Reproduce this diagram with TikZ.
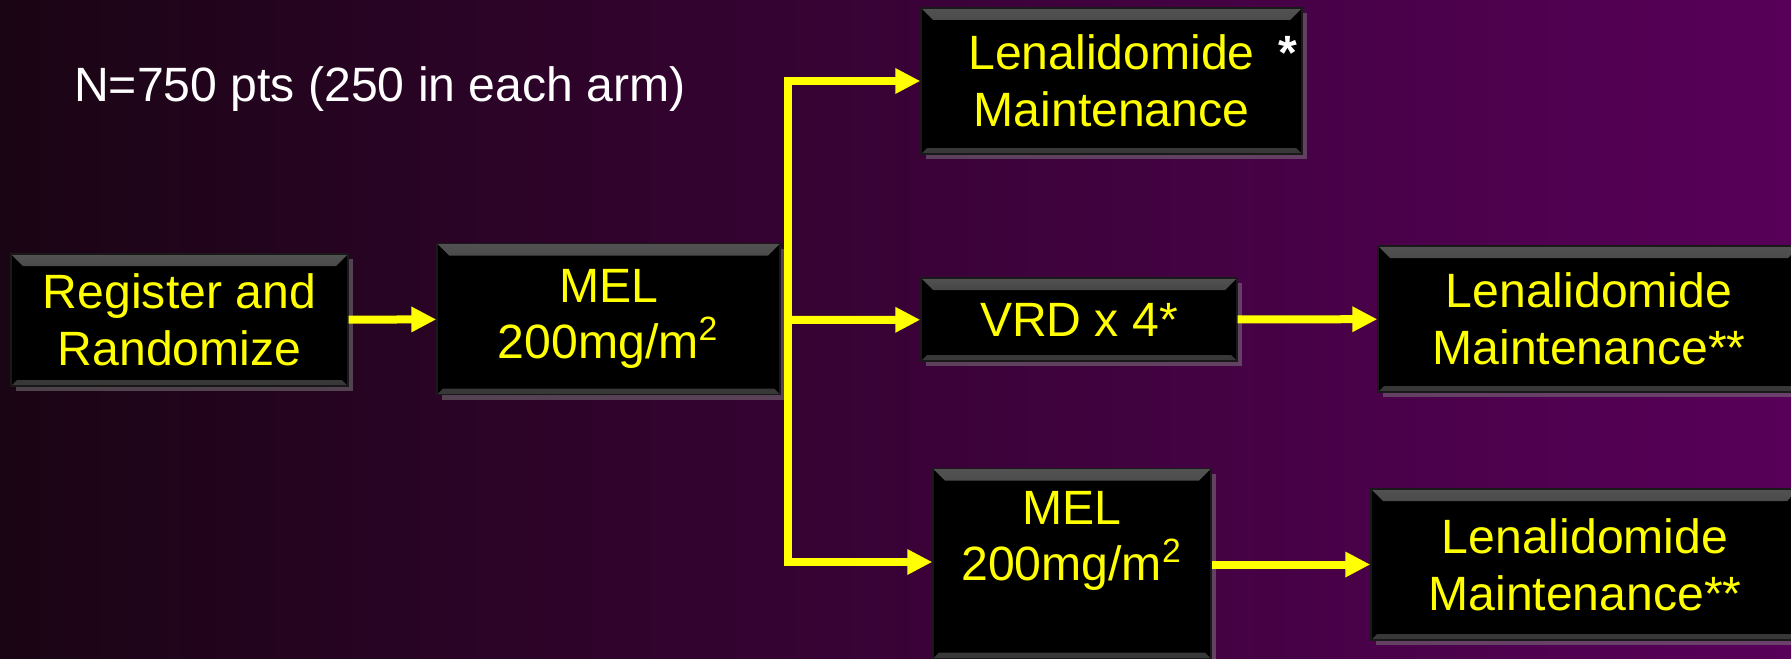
\documentclass[tikz,border=0pt]{standalone}
\usepackage{fontspec}
\setmainfont{Liberation Sans}
\usetikzlibrary{arrows.meta,calc,shadows}
\definecolor{bgdark}{HTML}{1A0514}
\definecolor{bgplum}{HTML}{580059}
\definecolor{hiyellow}{HTML}{FFFF00}
\tikzset{box/.style={fill=black,draw=black!90,text=hiyellow,align=center,inner sep=0pt,font=\fontsize{13.7}{16.1}\selectfont,drop shadow={shadow xshift=0.5mm,shadow yshift=-0.5mm,opacity=0.5}, path picture={\shade[top color=black!68,bottom color=black] (path picture bounding box.north west) -- (path picture bounding box.north east) -- ([shift={(-1.2mm,-1.2mm)}]path picture bounding box.north east) -- ([shift={(1.2mm,-1.2mm)}]path picture bounding box.north west) -- cycle; \fill[black!78] (path picture bounding box.south west) -- ([shift={(0.6mm,0.6mm)}]path picture bounding box.south west) -- ([shift={(-0.6mm,0.6mm)}]path picture bounding box.south east) -- (path picture bounding box.south east) -- cycle;}}, flow/.style={-{Triangle[length=2.5mm,width=2.4mm]},line width=0.8mm,draw=hiyellow}, note/.style={text=white,font=\fontsize{13.7}{16.1}\selectfont}}

\begin{document}
\begin{tikzpicture}[x=1cm,y=1cm]
\shade[left color=bgdark,right color=bgplum] (0,0) rectangle (17.91,-6.58);
\useasboundingbox (0,0) rectangle (17.91,-6.58);
\node[note] (arms) at (3.80,-0.89) {N=750 pts (250 in each arm)};
\node[box,minimum width=3.37cm,minimum height=1.32cm] (reg) at (1.795,-3.20) {Register and\\Randomize};
\node[box,minimum width=3.43cm,minimum height=1.51cm] (mel) at (6.085,-3.19) {MEL\\200mg/m\textsuperscript{2}};
\node[box,minimum width=3.81cm,minimum height=1.46cm] (lena) at (11.115,-0.81) {Lenalidomide\rlap{\hspace{0.5em}\textcolor{white}{\bfseries *}}\\Maintenance};
\node[box,minimum width=3.16cm,minimum height=0.83cm] (vrd) at (10.79,-3.195) {VRD x 4*};
\node[box,minimum width=4.22cm,minimum height=1.46cm] (lenb) at (15.89,-3.19) {Lenalidomide\\Maintenance**};
\node[box,minimum width=2.78cm,anchor=north,text height=1.12cm,text depth=0.78cm] (melb) at (10.72,-4.68) {MEL\\200mg/m\textsuperscript{2}};
\node[box,minimum width=4.28cm,minimum height=1.51cm] (lenc) at (15.85,-5.645) {Lenalidomide\\Maintenance**};
\coordinate (fork) at (7.88,-3.20);
\coordinate (low) at (7.88,-5.62);
\draw[flow] (fork) |- (lena);
\draw[flow] (fork) -- (vrd);
\draw[flow] (fork) |- (low -| melb.west);
\draw[flow] (reg) -- (mel);
\draw[flow] (vrd) -- (lenb);
\draw[flow] (lenc -| melb.east) -- (lenc);
\end{tikzpicture}
\end{document}
